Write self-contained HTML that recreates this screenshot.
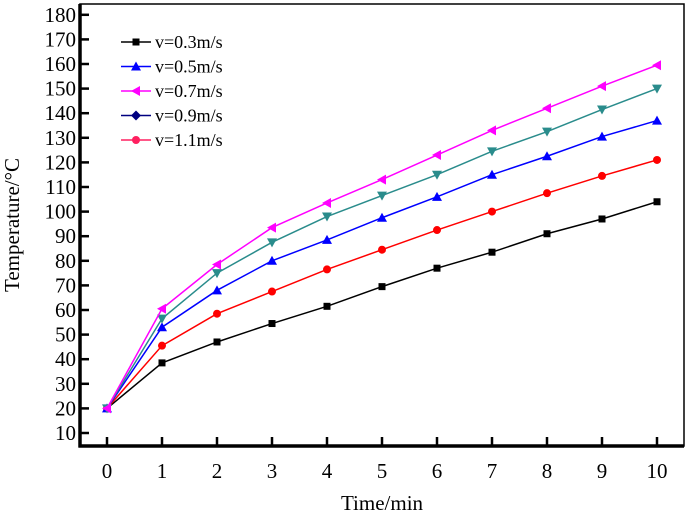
<!DOCTYPE html>
<html><head><meta charset="utf-8"><style>
html,body{margin:0;padding:0;background:#fff;}
svg{display:block;}
svg text{font-family:"Liberation Serif","Times New Roman",serif;}
</style></head><body>
<svg id="chart" width="685" height="514" font-family="Liberation Serif, serif"></svg>
<script>
const categories=[0,1,2,3,4,5,6,7,8,9,10];
const yTicks=[10,20,30,40,50,60,70,80,90,100,110,120,130,140,150,160,170,180];
const s03=[20,38.5,47,54.5,61.5,69.5,77,83.5,91,97,104];
const s05=[20,53,68,80,88.5,97.5,106,115,122.5,130.5,137];
const s07=[20,60.5,78.5,93.5,103.5,113,123,133,142,151,159.5];
const s09=[20,56.5,75,87.5,98,106.5,115,124.5,132.5,141.5,150];
const s11=[20,45.5,58.5,67.5,76.5,84.5,92.5,100,107.5,114.5,121];
const seriesNames=["v=0.3m/s","v=0.5m/s","v=0.7m/s","v=0.9m/s","v=1.1m/s"];

const NS="http://www.w3.org/2000/svg";
const svg=document.getElementById('chart');
const L=80,R=684,T=4,B=446;
const x=v=>107+v*55;
const y=v=>433-(v-10)*24.6/10;
function mk(tag,attrs,parent){const e=document.createElementNS(NS,tag);for(const k in attrs)e.setAttribute(k,attrs[k]);(parent||svg).appendChild(e);return e;}

const frame=mk('rect',{x:L,y:T,width:R-L,height:B-T,fill:'none',stroke:'#000','stroke-width':1.5});


const ax=mk('line',{x1:L,y1:T,x2:L,y2:B+1.5,stroke:'#000','stroke-width':3.5});


const bx=mk('line',{x1:L-1.5,y1:B,x2:R,y2:B,stroke:'#000','stroke-width':3.5});



yTicks.forEach(t=>{
  const tk=mk('line',{x1:L,y1:y(t),x2:L+9,y2:y(t),stroke:'#000','stroke-width':2.5});
  
  
  const tx=mk('text',{x:L-4,y:y(t)+7,'text-anchor':'end','font-size':21});
  tx.textContent=t;
  
  
});
categories.forEach(c=>{
  const tk=mk('line',{x1:x(c),y1:B,x2:x(c),y2:B-9,stroke:'#000','stroke-width':2.5});
  
  
  const tx=mk('text',{x:x(c),y:B+32,'text-anchor':'middle','font-size':21});
  tx.textContent=c;
  
  
});
const xt=mk('text',{x:382,y:510,'text-anchor':'middle','font-size':21});
xt.textContent='Time/min';


const yt=mk('text',{x:0,y:0,'text-anchor':'middle','font-size':21,transform:'translate(19,225) rotate(-90)'});
yt.textContent='Temperature/°C';



function marker(type,cx,cy,color,g){
  if(type==='square')return mk('rect',{x:cx-3.5,y:cy-3.5,width:7,height:7,fill:color},g);
  if(type==='up')return mk('polygon',{points:`${cx},${cy-5} ${cx-5},${cy+4} ${cx+5},${cy+4}`,fill:color},g);
  if(type==='left')return mk('polygon',{points:`${cx-5},${cy} ${cx+4},${cy-5} ${cx+4},${cy+5}`,fill:color},g);
  if(type==='down')return mk('polygon',{points:`${cx},${cy+5} ${cx-5},${cy-4} ${cx+5},${cy-4}`,fill:color},g);
  if(type==='diamond')return mk('polygon',{points:`${cx},${cy-5} ${cx+5},${cy} ${cx},${cy+5} ${cx-5},${cy}`,fill:color},g);
  return mk('circle',{cx:cx,cy:cy,r:4,fill:color},g);
}
const defs=[
 {data:s03,color:'#000',m:'square',name:'series-v03',lc:'#000',lm:'square'},
 {data:s11,color:'#ff0000',m:'circle',name:'series-v11',lc:'#ff2060',lm:'circle'},
 {data:s05,color:'#0000ff',m:'up',name:'series-v05',lc:'#0000ff',lm:'up'},
 {data:s09,color:'#2a8c8c',m:'down',name:'series-v09',lc:'#000080',lm:'diamond'},
 {data:s07,color:'#ff00ff',m:'left',name:'series-v07',lc:'#ff00ff',lm:'left'}
];
defs.forEach(d=>{
  const g=mk('g',{});
  
  
  const p=mk('polyline',{points:d.data.map((v,i)=>x(categories[i])+','+y(v)).join(' '),fill:'none',stroke:d.color,'stroke-width':1.5},g);
  
  
  d.data.forEach((v,i)=>{
    const m=marker(d.m,x(categories[i]),y(v),d.color,g);
    
    
  });
});
const lg=mk('g',{});


const order=[0,2,4,3,1];
order.forEach((di,k)=>{
  const d=defs[di];
  const ly=42+k*24.5;
  const e=mk('g',{},lg);
  
  
  mk('line',{x1:121,y1:ly,x2:151,y2:ly,stroke:d.lc,'stroke-width':1.5},e);
  marker(d.lm,136,ly,d.lc,e);
  const t=mk('text',{x:155,y:ly+6,'font-size':18},e);
  t.textContent=seriesNames[[0,4,1,3,2][di]];
});
</script>
</body></html>
